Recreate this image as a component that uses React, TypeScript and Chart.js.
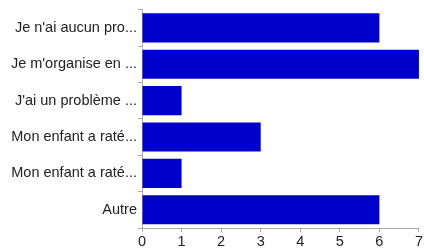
import React, { useEffect, useRef } from "react";
import { Chart, registerables } from "chart.js";

Chart.register(...registerables);

const categories = [
  "Je n'ai aucun pro...",
  "Je m'organise en ...",
  "J'ai un problème ...",
  "Mon enfant a raté...",
  "Mon enfant a raté...",
  "Autre",
];
const values = [6, 7, 1, 3, 1, 6];
const xTicks = [0, 1, 2, 3, 4, 5, 6, 7];

export default function App() {
  const ref = useRef<HTMLCanvasElement | null>(null);
  useEffect(() => {
    document.body.style.margin = "0";
    const ctx = ref.current!;
    const chart = new Chart(ctx, {
      type: "bar",
      data: {
        labels: categories,
        datasets: [
          {
            data: values,
            backgroundColor: "#0000cc",
            borderWidth: 0,
            barPercentage: 0.8,
            categoryPercentage: 1,
          },
        ],
      },
      options: {
        indexAxis: "y",
        animation: false,
        responsive: false,
        maintainAspectRatio: false,
        layout: { padding: { top: 7, right: 1, left: 0, bottom: 0 } },
        plugins: { legend: { display: false }, tooltip: { enabled: false } },
        scales: {
          x: {
            min: xTicks[0],
            max: xTicks[xTicks.length - 1],
            afterBuildTicks: (axis: any) => {
              axis.ticks = xTicks.map((v) => ({ value: v }));
            },
            afterFit: (axis: any) => {
              axis.height = 23;
            },
            grid: { drawOnChartArea: false, drawTicks: true, tickLength: 4, color: "#aaaaaa" },
            border: { display: true, color: "#aaaaaa" },
            ticks: { color: "#222222", font: { family: "Liberation Sans", size: 14.5 }, padding: 1 },
          },
          y: {
            afterFit: (axis: any) => {
              axis.width = 142;
            },
            grid: { drawOnChartArea: false, drawTicks: true, tickLength: 4, color: "#aaaaaa" },
            border: { display: true, color: "#aaaaaa" },
            ticks: { color: "#222222", font: { family: "Liberation Sans", size: 14.5 }, padding: 1 },
          },
        },
      },
    });
    return () => chart.destroy();
  }, []);
  return <canvas ref={ref} width={424} height={251} style={{ display: "block" }} />;
}
